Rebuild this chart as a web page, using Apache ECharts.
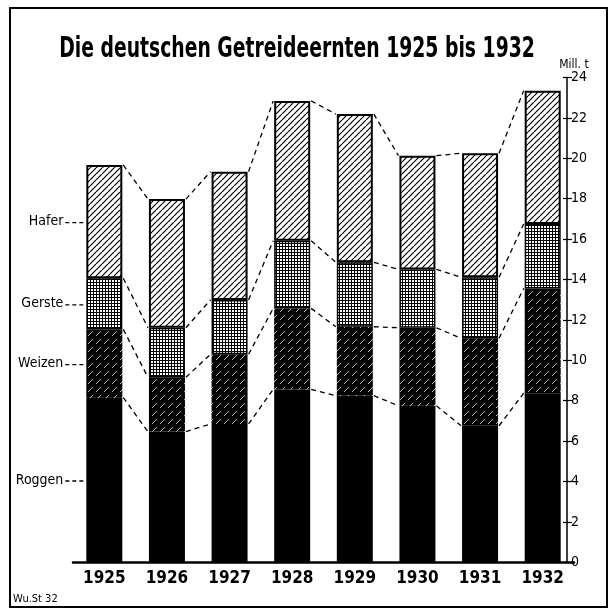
<!DOCTYPE html>
<html>
<head>
<meta charset="utf-8">
<script src="https://cdn.jsdelivr.net/npm/echarts@6/dist/echarts.min.js"></script>
<style>
  html, body { margin: 0; padding: 0; background: #fff; }
  #chart { width: 616px; height: 610px; }
</style>
</head>
<body>
<div id="chart"></div>
<script>
// Getreideernten in Mill. t, von unten nach oben gestapelt
var years = ['1925', '1926', '1927', '1928', '1929', '1930', '1931', '1932'];
var crops = ['Roggen', 'Weizen', 'Gerste', 'Hafer'];
var roggen = [8.15, 6.47, 6.85, 8.56, 8.25, 7.75, 6.76, 8.37];
var weizen = [3.38, 2.69, 3.45, 4.01, 3.41, 3.86, 4.33, 5.19];
var gerste = [2.53, 2.45, 2.69, 3.35, 3.19, 2.89, 3.02, 3.19];
var hafer  = [5.61, 6.37, 6.35, 6.92, 7.34, 5.63, 6.14, 6.60];
var yMin = 0, yMax = 24, yStep = 2;

var FONT = "'DejaVu Sans Condensed', 'DejaVu Sans', sans-serif";
var BAR_W = 36;

function tile(w, h, draw) {
  var c = document.createElement('canvas');
  c.width = w; c.height = h;
  draw(c.getContext('2d'), w, h);
  return { image: c, repeat: 'repeat' };
}

// Hafer: schwarze Schraffur auf weiss
var haferFill = tile(6, 6, function (ctx, w, h) {
  ctx.fillStyle = '#fff'; ctx.fillRect(0, 0, w, h);
  ctx.strokeStyle = '#000'; ctx.lineWidth = 1.2;
  ctx.beginPath();
  for (var k = -1; k <= 1; k++) { ctx.moveTo(k * w, h); ctx.lineTo(k * w + w, 0); }
  ctx.stroke();
});
// Gerste: feines Gitter
var gersteFill = tile(3, 3, function (ctx, w, h) {
  ctx.fillStyle = '#fff'; ctx.fillRect(0, 0, w, h);
  ctx.fillStyle = '#000';
  ctx.fillRect(0, 0, w, 1);
  ctx.fillRect(0, 0, 1, h);
});
// Weizen: schwarz mit weissen, unterbrochenen Strichen
var weizenFill = tile(8, 8, function (ctx, w, h) {
  ctx.fillStyle = '#000'; ctx.fillRect(0, 0, w, h);
  ctx.strokeStyle = '#cfcfcf'; ctx.lineWidth = 0.9;
  ctx.beginPath(); ctx.moveTo(0, 8); ctx.lineTo(5, 3); ctx.stroke();
});

var layers = [roggen, weizen, gerste, hafer];
var fills = ['#000', weizenFill, gersteFill, haferFill];
var borders = [0, 0, 1.5, 2];

// Obergrenzen der Schichten je Jahr
var tops = [];
var base = years.map(function () { return 0; });
var mids = [];
layers.forEach(function (arr, l) {
  mids.push([0, base[0] + arr[0] / 2, crops[l]]);
  base = base.map(function (b, i) { return b + arr[i]; });
  tops.push(base.slice());
});

var linkData = [];
tops.forEach(function (t) {
  for (var i = 0; i < t.length - 1; i++) linkData.push([i, t[i], t[i + 1]]);
});

var barSeries = layers.map(function (arr, l) {
  return {
    type: 'bar',
    name: crops[l],
    stack: 'ernte',
    barWidth: BAR_W,
    data: arr,
    itemStyle: { color: fills[l], borderColor: '#000', borderWidth: borders[l] },
    z: 2
  };
});

var chart = echarts.init(document.getElementById('chart'));
chart.setOption({
  backgroundColor: '#fff',
  animation: false,
  grid: { left: 73, right: 42, top: 77.5, bottom: 47.7 },
  xAxis: {
    type: 'category',
    data: years,
    axisLine: { lineStyle: { color: '#000', width: 2.5 } },
    axisTick: { show: false },
    axisLabel: { interval: 0, color: '#000', fontFamily: FONT, fontSize: 17, fontWeight: 'bold', margin: 8 }
  },
  yAxis: [{
    type: 'value', position: 'right', offset: -7,
    min: yMin, max: yMax, interval: yStep,
    name: 'Mill. t', nameGap: 6,
    nameTextStyle: { color: '#000', fontFamily: FONT, fontSize: 12, padding: [0, 0, 0, 14] },
    axisLine: { show: true, lineStyle: { color: '#000', width: 1.5 } },
    axisTick: { show: true, length: 5, lineStyle: { color: '#000', width: 1.2 } },
    axisLabel: { color: '#000', fontFamily: FONT, fontSize: 14, margin: 4 },
    splitLine: { show: false }
  }, {
    type: 'value', position: 'right', offset: -7,
    min: yMin, max: yMax, interval: yStep,
    axisLine: { show: false },
    axisTick: { show: true, inside: true, length: 4, lineStyle: { color: '#000', width: 1.2 } },
    axisLabel: { show: false },
    splitLine: { show: false }
  }],
  graphic: [{
    type: 'rect',
    shape: { x: 10, y: 8, width: 597, height: 599 },
    style: { fill: 'none', stroke: '#000', lineWidth: 2 },
    z: 0
  }, {
    type: 'text', x: 297, y: 49, scaleX: 0.72,
    style: {
      text: 'Die deutschen Getreideernten 1925 bis 1932',
      x: 0, y: 0, align: 'center', verticalAlign: 'middle',
      fill: '#000', font: 'bold 29px ' + FONT
    }
  }, {
    type: 'text', left: 13, top: 594,
    style: { text: 'Wu.St 32', fill: '#000', font: "11px " + FONT }
  }],
  series: barSeries.concat([{
    type: 'custom',
    data: linkData,
    encode: { x: 0, y: [1, 2] },
    z: 3,
    renderItem: function (params, api) {
      var i = api.value(0);
      var p0 = api.coord([i, api.value(1)]);
      var p1 = api.coord([i + 1, api.value(2)]);
      return {
        type: 'line',
        shape: { x1: p0[0] + BAR_W / 2 + 1, y1: p0[1], x2: p1[0] - BAR_W / 2 - 1, y2: p1[1] },
        style: { stroke: '#000', lineWidth: 1.3, lineDash: [5, 4] }
      };
    }
  }, {
    type: 'custom',
    data: mids,
    encode: { x: 0, y: 1 },
    z: 3,
    renderItem: function (params, api) {
      var p = api.coord([api.value(0), api.value(1)]);
      var xr = p[0] - BAR_W / 2 - 2;
      return {
        type: 'group',
        children: [{
          type: 'text',
          style: {
            text: mids[params.dataIndex][2], x: xr - 21, y: p[1],
            align: 'right', verticalAlign: 'middle',
            fill: '#000', font: '14px ' + FONT
          }
        }, {
          type: 'line',
          shape: { x1: xr - 19, y1: p[1] + 1, x2: xr, y2: p[1] + 1 },
          style: { stroke: '#000', lineWidth: 1.3, lineDash: [4, 3] }
        }]
      };
    }
  }])
});
</script>
</body>
</html>
